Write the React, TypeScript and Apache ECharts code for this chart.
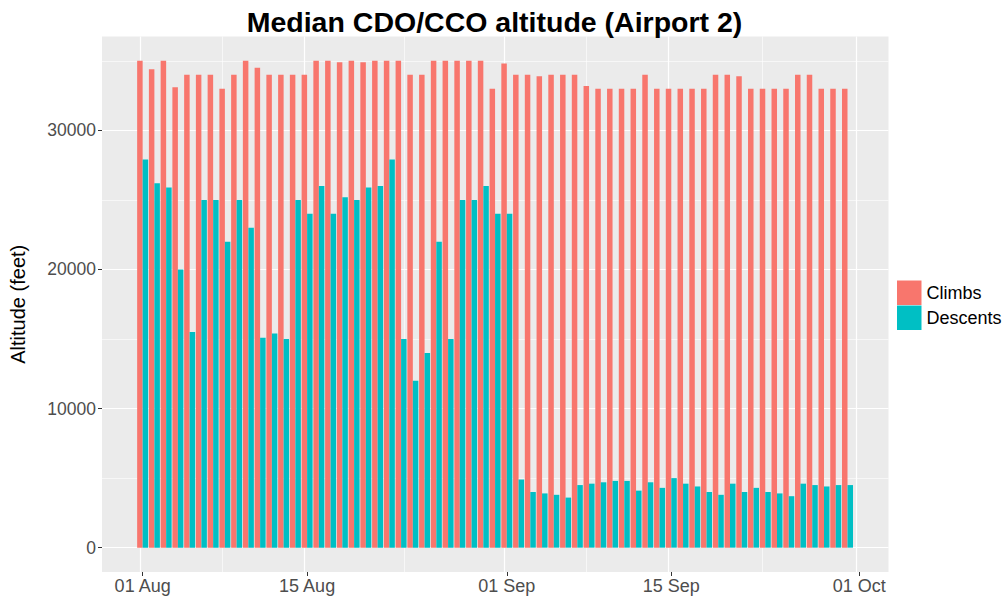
import React, { useEffect, useRef } from "react";
import * as echarts from "echarts";

// Day 0 = 01 Aug, day 60 = 30 Sep
const climbs = [
  35000, 34400, 35000, 33100, 34000, 34000, 34000, 33000, 34000, 35000,
  34500, 34000, 34000, 34000, 34000, 35000, 35000, 34900, 35000, 34900,
  35000, 35000, 35000, 34000, 34000, 35000, 35000, 35000, 35000, 35000,
  33000, 34800, 34000, 34000, 33900, 34000, 34000, 34000, 33200, 33000,
  33000, 33000, 33000, 34000, 33000, 33000, 33000, 33000, 33000, 34000,
  34000, 33900, 33000, 33000, 33000, 33000, 34000, 34000, 33000, 33000,
  33000,
];
const descents = [
  27900, 26200, 25900, 20000, 15500, 25000, 25000, 22000, 25000, 23000,
  15100, 15400, 15000, 25000, 24000, 26000, 24000, 25200, 25000, 25900,
  26000, 27900, 15000, 12000, 14000, 22000, 15000, 25000, 25000, 26000,
  24000, 24000, 4900, 4000, 3900, 3800, 3600, 4500, 4600, 4700,
  4800, 4800, 4100, 4700, 4300, 5000, 4600, 4400, 4000, 3800,
  4600, 4000, 4300, 4000, 3900, 3700, 4600, 4500, 4400, 4500,
  4500,
];
const seriesNames = ["Climbs", "Descents"];
const xTickDays = [0, 14, 31, 45, 61];
const xTickLabels = ["01 Aug", "15 Aug", "01 Sep", "15 Sep", "01 Oct"];
const xMinorDays = [7, 22.5, 38, 53];
const yTicks = [0, 10000, 20000, 30000];
const yMinor = [5000, 15000, 25000, 35000];

export default function App() {
  const ref = useRef<HTMLDivElement>(null);
  useEffect(() => {
    const chart = echarts.init(ref.current!, null, { renderer: "svg" });
    const font = "'Liberation Sans', Arial, sans-serif";
    const major = { color: "#ffffff", width: 1.2, type: "solid" };
    const minor = { color: "#ffffff", width: 0.6, type: "solid" };
    const vLines = [
      ...xTickDays.map((d) => ({ xAxis: d, lineStyle: major })),
      ...xMinorDays.map((d) => ({ xAxis: d, lineStyle: minor })),
    ];
    const hLines = [
      ...yTicks.map((v) => ({ yAxis: v, lineStyle: major })),
      ...yMinor.map((v) => ({ yAxis: v, lineStyle: minor })),
    ];
    const markBase = {
      z: 1,
      silent: true,
      symbol: "none",
      label: { show: false },
      emphasis: { disabled: true },
      animation: false,
    };
    chart.setOption({
      animation: false,
      backgroundColor: "#ffffff",
      textStyle: { fontFamily: font },
      graphic: [
        {
          type: "text",
          x: 494.5,
          y: 22,
          style: {
            text: "Median CDO/CCO altitude (Airport 2)",
            fontFamily: font,
            fontSize: 28.5,
            fontWeight: "bold",
            fill: "#000000",
            align: "center",
            verticalAlign: "middle",
          },
        },
      ],
      grid: {
        left: 101,
        top: 36.5,
        width: 787.5,
        height: 535.5,
        show: true,
        backgroundColor: "#EBEBEB",
        borderWidth: 0,
      },
      legend: {
        orient: "vertical",
        left: 897,
        top: 280.5,
        padding: 0,
        itemWidth: 24.5,
        itemHeight: 24.5,
        itemGap: 0.5,
        icon: "rect",
        selectedMode: false,
        data: seriesNames,
        textStyle: { fontSize: 18, color: "#000000", fontFamily: font },
      },
      xAxis: {
        type: "value",
        min: -3.46,
        max: 63.49,
        axisLine: { show: false, onZero: false },
        axisTick: {
          show: true,
          length: 4,
          customValues: xTickDays,
          lineStyle: { color: "#333333", width: 1 },
        },
        axisLabel: {
          customValues: xTickDays,
          formatter: (v: number) => {
            const i = xTickDays.indexOf(v);
            return i >= 0 ? xTickLabels[i] : "";
          },
          fontSize: 18,
          color: "#4D4D4D",
          margin: 5,
          fontFamily: font,
        },
        splitLine: { show: false },
      },
      yAxis: {
        type: "value",
        min: -1750,
        max: 36750,
        name: "Altitude (feet)",
        nameLocation: "middle",
        nameGap: 74,
        nameRotate: 90,
        nameTextStyle: { fontSize: 20, color: "#000000", fontFamily: font },
        axisLine: { show: false, onZero: false },
        axisTick: {
          show: true,
          length: 4,
          customValues: yTicks,
          lineStyle: { color: "#333333", width: 1 },
        },
        axisLabel: {
          customValues: yTicks,
          formatter: (v: number) => String(v),
          fontSize: 17.5,
          color: "#4D4D4D",
          margin: 6,
          fontFamily: font,
        },
        splitLine: { show: false },
      },
      series: [
        {
          name: seriesNames[0],
          type: "bar",
          data: climbs.map((v, i) => [i, v]),
          barWidth: 5.5,
          barGap: "0%",
          itemStyle: { color: "#F8766D" },
          markLine: { ...markBase, data: vLines },
        },
        {
          name: seriesNames[1],
          type: "bar",
          data: descents.map((v, i) => [i, v]),
          barWidth: 5.5,
          barGap: "0%",
          itemStyle: { color: "#00BFC4" },
          markLine: { ...markBase, data: hLines },
        },
      ],
    });
    return () => chart.dispose();
  }, []);
  return (
    <div
      ref={ref}
      style={{ position: "fixed", left: 0, top: 0, width: 1004, height: 597 }}
    />
  );
}
